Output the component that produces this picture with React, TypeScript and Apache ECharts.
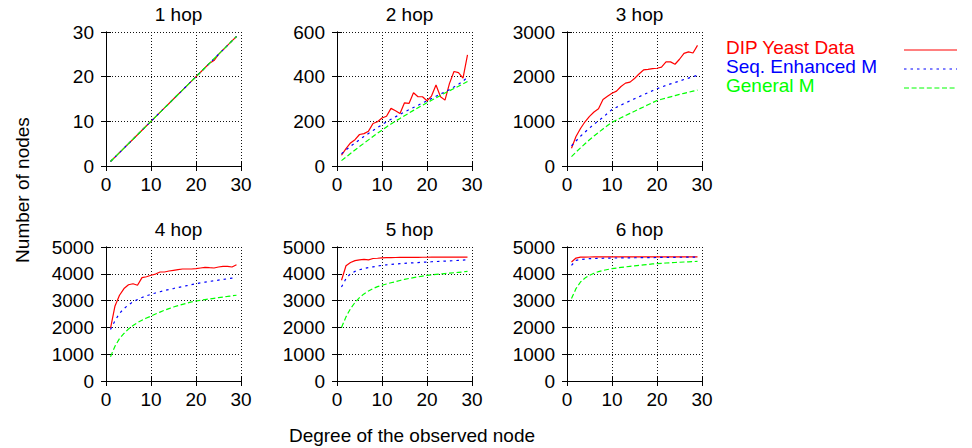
import React, { useEffect, useRef } from "react";
import * as echarts from "echarts";

const degrees = [1, 2, 3, 4, 5, 6, 7, 8, 9, 10, 11, 12, 13, 14, 15, 16, 17, 18, 19, 20, 21, 22, 23, 24, 25, 26, 27, 28, 29];

const seriesNames = ["DIP Yeast Data", "Seq. Enhanced M", "General M"];
const seriesColors = ["#ff0000", "#0000ff", "#00ff00"];
const hopTitles = ["1 hop", "2 hop", "3 hop", "4 hop", "5 hop", "6 hop"];
const yMaxes = [30, 600, 3000, 5000, 5000, 5000];
const yIntervals = [10, 200, 1000, 1000, 1000, 1000];
const xAxisName = "Degree of the observed node";
const yAxisName = "Number of nodes";

// 1 hop
const hop1Dip = [1, 2, 3, 4, 5, 6, 7, 8, 9, 10, 11, 12, 13, 14, 15, 16, 17, 18, 19, 20, 21, 22, 23, 23.6, 25, 26, 27, 28, 29];
const hop1Seq = [1, 2, 3, 4, 5, 6, 7, 8, 9, 10, 11, 12, 13, 14, 15, 16, 17, 18, 19, 20, 21, 22, 23, 24, 25, 26, 27, 28, 29];
const hop1Gen = [1, 2, 3, 4, 5, 6, 7, 8, 9, 10, 11, 12, 13, 14, 15, 16, 17, 18, 19, 20, 21, 22, 23, 24, 25, 26, 27, 28, 29];

// 2 hop
const hop2Dip = [48, 78, 103, 118, 141, 145, 156, 190, 198, 215, 223, 258, 247, 235, 283, 280, 328, 310, 310, 292, 313, 363, 310, 295, 370, 423, 418, 393, 498];
const hop2Seq = [55, 72, 88, 103, 118, 132, 146, 159, 172, 185, 197, 209, 220, 231, 242, 252, 262, 272, 282, 292, 302, 312, 322, 332, 342, 354, 366, 380, 397];
const hop2Gen = [24, 40, 56, 72, 87, 102, 117, 132, 147, 161, 175, 188, 201, 213, 225, 237, 249, 261, 272, 283, 294, 305, 316, 327, 337, 347, 357, 368, 378];

// 3 hop
const hop3Dip = [398, 662, 840, 990, 1110, 1210, 1280, 1489, 1560, 1630, 1677, 1780, 1855, 1878, 1960, 2060, 2150, 2165, 2182, 2188, 2215, 2331, 2331, 2278, 2390, 2520, 2555, 2530, 2700];
const hop3Seq = [451, 560, 665, 760, 850, 935, 1015, 1090, 1180, 1263, 1315, 1365, 1412, 1458, 1504, 1550, 1596, 1642, 1686, 1730, 1767, 1803, 1838, 1871, 1903, 1936, 1968, 1999, 2030];
const hop3Gen = [210, 310, 405, 497, 587, 670, 750, 830, 905, 978, 1030, 1080, 1130, 1178, 1226, 1275, 1322, 1370, 1418, 1466, 1494, 1522, 1549, 1576, 1602, 1627, 1652, 1676, 1700];

// 4 hop
const hop4Dip = [1960, 2800, 3200, 3449, 3590, 3630, 3573, 3858, 3890, 3945, 3990, 4067, 4067, 4104, 4129, 4154, 4179, 4179, 4180, 4191, 4216, 4241, 4228, 4216, 4253, 4278, 4280, 4253, 4340];
const hop4Seq = [1923, 2250, 2520, 2705, 2840, 2950, 3040, 3115, 3180, 3235, 3285, 3330, 3375, 3415, 3450, 3490, 3525, 3560, 3595, 3630, 3660, 3690, 3715, 3740, 3765, 3790, 3815, 3840, 3865];
const hop4Gen = [906, 1300, 1580, 1774, 1940, 2070, 2180, 2270, 2350, 2420, 2500, 2570, 2640, 2700, 2760, 2810, 2860, 2905, 2950, 2985, 3012, 3038, 3062, 3086, 3110, 3133, 3155, 3178, 3200];

// 5 hop
const hop5Dip = [3760, 4300, 4420, 4490, 4520, 4540, 4520, 4570, 4580, 4595, 4600, 4605, 4608, 4610, 4612, 4614, 4615, 4616, 4617, 4618, 4619, 4620, 4620, 4621, 4622, 4622, 4623, 4623, 4625];
const hop5Seq = [3509, 3820, 4005, 4090, 4150, 4195, 4230, 4260, 4290, 4315, 4335, 4350, 4365, 4378, 4390, 4400, 4410, 4420, 4430, 4440, 4450, 4458, 4466, 4474, 4482, 4490, 4500, 4510, 4526];
const hop5Gen = [2000, 2393, 2700, 2930, 3112, 3250, 3360, 3450, 3520, 3571, 3620, 3665, 3705, 3750, 3794, 3825, 3855, 3885, 3915, 3943, 3960, 3977, 3993, 4010, 4025, 4040, 4055, 4070, 4092];

// 6 hop
const hop6Dip = [4440, 4588, 4620, 4625, 4627, 4628, 4629, 4630, 4630, 4631, 4631, 4632, 4632, 4632, 4633, 4633, 4633, 4633, 4634, 4634, 4634, 4634, 4634, 4635, 4635, 4635, 4635, 4635, 4635];
const hop6Seq = [4315, 4500, 4535, 4550, 4563, 4570, 4576, 4580, 4585, 4588, 4590, 4592, 4594, 4596, 4598, 4600, 4602, 4604, 4606, 4608, 4610, 4612, 4613, 4615, 4617, 4619, 4621, 4623, 4625];
const hop6Gen = [3075, 3447, 3695, 3840, 3943, 4020, 4080, 4125, 4160, 4191, 4215, 4237, 4258, 4278, 4297, 4315, 4333, 4350, 4367, 4380, 4392, 4403, 4413, 4422, 4431, 4440, 4448, 4456, 4464];

const hopData = [
  [hop1Dip, hop1Seq, hop1Gen],
  [hop2Dip, hop2Seq, hop2Gen],
  [hop3Dip, hop3Seq, hop3Gen],
  [hop4Dip, hop4Seq, hop4Gen],
  [hop5Dip, hop5Seq, hop5Gen],
  [hop6Dip, hop6Seq, hop6Gen],
];

const FONT = "Liberation Sans, Arial, Helvetica, sans-serif";
const FS = 19;
const colLefts = [106, 337, 567];
const rowTops = [32, 247];
const plotW = 135;
const plotH = 134;
const dashes: any[] = ["solid", [2.5, 4], [5, 2.6]];

export default function App() {
  const ref = useRef<HTMLDivElement>(null);

  useEffect(() => {
    if (!ref.current) return;
    const chart = echarts.init(ref.current, undefined, { renderer: "svg" });

    const grids: any[] = [];
    const xAxes: any[] = [];
    const yAxes: any[] = [];
    const series: any[] = [];
    const titles: any[] = [];

    const axisLine = { show: true, lineStyle: { color: "#000", width: 1 } };
    const tick = { show: true, inside: true, length: 5, lineStyle: { color: "#000", width: 1 } };
    const split = { show: true, lineStyle: { color: "#111", width: 1, type: [1, 2] } };
    const label = { color: "#000", fontSize: FS, fontFamily: FONT, formatter: (v: number) => String(v) };

    for (let i = 0; i < 6; i++) {
      const left = colLefts[i % 3];
      const top = rowTops[Math.floor(i / 3)];
      grids.push({ left, top, width: plotW, height: plotH, containLabel: false });
      titles.push({
        text: hopTitles[i],
        left: left + plotW / 2,
        top: top - 32,
        textAlign: "center",
        textStyle: { color: "#000", fontSize: FS, fontWeight: "normal", fontFamily: FONT },
      });
      xAxes.push({
        gridIndex: i, type: "value", position: "bottom", min: 0, max: 30, interval: 10,
        axisLine, axisTick: tick, splitLine: split,
        axisLabel: { ...label, margin: 9 },
      });
      xAxes.push({
        gridIndex: i, type: "value", position: "top", min: 0, max: 30, interval: 10,
        axisLine, axisTick: tick, splitLine: { show: false }, axisLabel: { show: false },
      });
      yAxes.push({
        gridIndex: i, type: "value", position: "left", min: 0, max: yMaxes[i], interval: yIntervals[i],
        axisLine, axisTick: tick, splitLine: split,
        axisLabel: { ...label, margin: 12 },
      });
      yAxes.push({
        gridIndex: i, type: "value", position: "right", min: 0, max: yMaxes[i], interval: yIntervals[i],
        axisLine, axisTick: tick, splitLine: { show: false }, axisLabel: { show: false },
      });

      for (let s = 0; s < 3; s++) {
        series.push({
          name: seriesNames[s],
          type: "line",
          xAxisIndex: 2 * i,
          yAxisIndex: 2 * i,
          data: degrees.map((d, k) => [d, hopData[i][s][k]]),
          showSymbol: false,
          symbol: "none",
          lineStyle: { color: seriesColors[s], width: 1.2, type: dashes[s] },
          itemStyle: { color: seriesColors[s] },
          z: 3 + s,
        });
      }
    }

    const legendYs = [49, 68, 87];
    const graphic: any[] = [];
    for (let s = 0; s < 3; s++) {
      graphic.push({
        type: "text",
        left: 726,
        top: legendYs[s] - 11,
        style: { text: seriesNames[s], fill: seriesColors[s], fontSize: FS, fontFamily: FONT },
      });
      graphic.push({
        type: "line",
        shape: { x1: 904, y1: legendYs[s] + 1, x2: 957, y2: legendYs[s] + 1 },
        style: {
          stroke: seriesColors[s],
          lineWidth: 1,
          lineDash: s === 0 ? null : dashes[s],
        },
      });
    }
    graphic.push({
      type: "text",
      x: 412,
      y: 435,
      style: { text: xAxisName, fill: "#000", fontSize: FS, fontFamily: FONT, align: "center", verticalAlign: "middle" },
    });
    graphic.push({
      type: "text",
      x: 22,
      y: 190,
      rotation: Math.PI / 2,
      style: { text: yAxisName, fill: "#000", fontSize: FS, fontFamily: FONT, align: "center", verticalAlign: "middle" },
    });

    chart.setOption({
      animation: false,
      backgroundColor: "#fff",
      textStyle: { fontFamily: FONT },
      title: titles,
      grid: grids,
      xAxis: xAxes,
      yAxis: yAxes,
      series,
      graphic,
    });

    return () => chart.dispose();
  }, []);

  return (
    <div
      ref={ref}
      style={{ position: "absolute", left: 0, top: 0, width: 972, height: 448 }}
    />
  );
}
